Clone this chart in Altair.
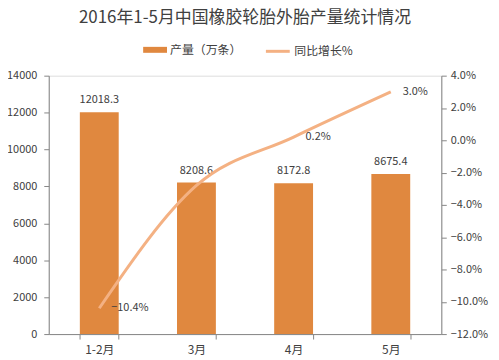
import altair as alt
import pandas as pd

months = ["1-2月", "3月", "4月", "5月"]
output = [12018.3, 8208.6, 8172.8, 8675.4]
growth = [-10.4, -2.8, 0.2, 3.0]
show_growth_label = [True, False, True, True]

left_ticks = [0, 2000, 4000, 6000, 8000, 10000, 12000, 14000]
right_ticks = [-12, -10, -8, -6, -4, -2, 0, 2, 4]

BAR = "#E0883F"
LINE = "#F4B183"
FONT = "Noto Sans CJK SC"
TXT = "#404040"
AXC = "#868686"

df = pd.DataFrame({
    "month": months,
    "output": output,
    "growth": growth,
    "show": show_growth_label,
})

x = alt.X("month:N", sort=months, title=None,
          scale=alt.Scale(paddingInner=0.6, paddingOuter=0.32),
          axis=alt.Axis(labelAngle=0, labelFontSize=12, labelColor=TXT, labelFont=FONT,
                        tickBand="extent", tickSize=5, tickColor=AXC, domainColor=AXC,
                        labelPadding=6))

y_left = alt.Y("output:Q", title=None,
               scale=alt.Scale(domain=[0, 14000], nice=False),
               axis=alt.Axis(values=left_ticks, grid=False, labelFontSize=11, labelColor=TXT,
                             labelFont=FONT, tickSize=5, tickColor=AXC, domainColor=AXC,
                             labelPadding=7, orient="left", format="d"))

y_right = alt.Y("growth:Q", title=None,
                scale=alt.Scale(domain=[-12, 4], nice=False),
                axis=alt.Axis(values=right_ticks, grid=False, labelFontSize=11, labelColor=TXT,
                              labelFont=FONT, tickSize=5, tickColor=AXC, domainColor=AXC,
                              labelPadding=4, orient="right",
                              labelExpr="format(datum.value, '.1f') + '%'"))

base = alt.Chart(df)

bars = base.transform_calculate(series="'产量（万条）'").mark_bar(color=BAR).encode(
    x=x, y=y_left,
    fill=alt.Fill("series:N", title=None,
                  scale=alt.Scale(domain=["产量（万条）"], range=[BAR]),
                  legend=alt.Legend(orient="none", legendX=95, legendY=-38,
                                    symbolType="M-1,-0.25H1V0.25H-1Z", symbolSize=576,
                                    symbolStrokeWidth=0, labelFont=FONT, labelFontSize=12,
                                    labelColor=TXT, labelOffset=3, padding=0)),
)

bar_text = base.mark_text(dy=-12, fontSize=11, font=FONT, color=TXT, baseline="middle").encode(
    x=x, y=y_left, text=alt.Text("output:Q", format=".1f"),
)

line = base.transform_calculate(series="'同比增长%'").mark_line(
    interpolate="monotone", strokeWidth=3
).encode(
    x=x, y=y_right,
    stroke=alt.Stroke("series:N", title=None,
                      scale=alt.Scale(domain=["同比增长%"], range=[LINE]),
                      legend=alt.Legend(orient="none", legendX=217, legendY=-38,
                                        symbolType="M-1,0H1", symbolSize=576,
                                        symbolStrokeWidth=3, labelFont=FONT, labelFontSize=12,
                                        labelColor=TXT, labelOffset=3, padding=0)),
)

line_text = base.transform_filter("datum.show").transform_calculate(
    lab="format(datum.growth, '.1f') + '%'"
).mark_text(dx=12, align="left", baseline="middle", fontSize=11, font=FONT, color=TXT).encode(
    x=x, y=y_right, text="lab:N",
)

left = alt.layer(bars, bar_text)
right = alt.layer(line, line_text)

chart = alt.layer(left, right).resolve_scale(y="independent", fill="independent", stroke="independent").properties(
    width=395, height=260,
    padding={"left": 41, "top": 67, "right": 50, "bottom": 25},
    autosize=alt.AutoSizeParams(type="none"),
    title=alt.TitleParams("2016年1-5月中国橡胶轮胎外胎产量统计情况", fontSize=17, font=FONT,
                          fontWeight="normal", color=TXT, offset=11, anchor="middle"),
).configure_view(stroke=None).configure(background="white")

chart.save("out.html", embed_options={"renderer": "svg", "actions": False})
